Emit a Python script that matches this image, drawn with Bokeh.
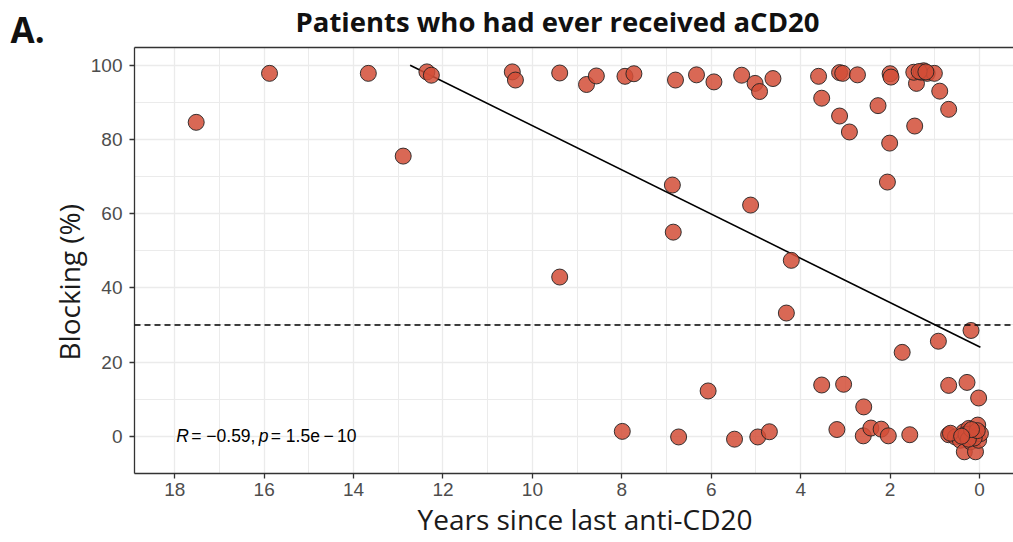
import numpy as np
from bokeh.plotting import figure
from bokeh.models import (Range1d, SingleIntervalTicker, FixedTicker, LinearAxis, Label,
                          Span, ColumnDataSource, Title)
from bokeh.embed import file_html
from bokeh.resources import INLINE

# ---------------- data ----------------
years = [17.52, 15.88, 13.67, 12.89, 12.36, 12.26, 10.45, 10.38, 9.39, 9.39,
         8.79, 8.57, 7.93, 7.73, 6.80, 6.33, 5.94, 5.32, 5.02, 4.92,
         4.62, 3.60, 3.53, 3.13, 2.91, 3.13, 3.06, 2.73, 2.27, 2.00,
         1.98, 2.01, 2.06, 1.45, 1.41, 1.47, 1.30, 1.25, 1.17, 1.01,
         0.89, 0.69, 6.87, 6.85, 5.12, 4.21, 4.32,
         1.73, 0.92, 0.19, 3.04, 0.69, 0.28, 0.02, 2.59,
         7.99, 6.73, 6.07, 5.48, 4.96, 4.70, 3.53, 3.19, 2.60, 2.43,
         2.20, 2.04, 1.56, 0.69, 0.54, 0.43, 0.35, 0.34, 0.28, 0.24,
         0.20, 0.16, 0.09, 0.09, 0.04, 0.02, -0.02, 0.65,
         0.30, 0.12, 0.25, 0.05, 0.18, 0.40, 1.35, 1.20]
blocking = [84.6, 97.8, 97.8, 75.5, 98.2, 97.3, 98.2, 96.0, 97.9, 42.9,
            94.8, 97.1, 97.0, 97.7, 96.0, 97.4, 95.5, 97.3, 95.1, 92.9,
            96.4, 97.0, 91.1, 86.3, 82.0, 98.0, 97.8, 97.4, 89.1, 97.7,
            96.8, 79.0, 68.5, 83.6, 95.1, 98.1, 98.1, 98.5, 97.8, 97.8,
            93.0, 88.1, 67.7, 55.0, 62.3, 47.4, 33.2,
            22.6, 25.6, 28.5, 14.0, 13.7, 14.5, 10.3, 7.9,
            1.3, -0.2, 12.2, -0.8, -0.2, 1.2, 13.8, 1.8, 0.1, 2.2,
            1.9, 0.1, 0.4, 0.4, -0.2, -1.1, 1.2, -4.2, -0.2, 2.1,
            -1.5, 0.7, 0.7, -4.2, 3.0, -1.1, 0.7, 0.8,
            0.5, -0.5, -0.8, 1.5, 1.8, 0.0, 98.3, 98.2]

threshold = 30
# fitted linear trend: blocking = fit_intercept + fit_slope * years
fit_intercept = 24.1
fit_slope = 5.96
y_cap = 100
annot_x, annot_y = 18, 0
annot_R = "−0.59"
annot_p = "1.5e\u2009−\u200910"

title_text = "Patients who had ever received aCD20"
panel_tag = "A."
x_label = "Years since last anti-CD20"
y_label = "Blocking (%)"

# ---------------- figure ----------------
p = figure(width=1013, height=542, output_backend="svg", toolbar_location=None,
           title=None,
           x_range=Range1d(18.90, -0.76), y_range=Range1d(-10.05, 104.77),
           min_border_left=134, min_border_right=0, min_border_top=47,
           min_border_bottom=69, background_fill_color="white",
           border_fill_color="white")
p.outline_line_color = None

# grids
p.xaxis.ticker = SingleIntervalTicker(interval=2, num_minor_ticks=2)
p.yaxis.ticker = SingleIntervalTicker(interval=20, num_minor_ticks=2)
p.xgrid.ticker = SingleIntervalTicker(interval=2, num_minor_ticks=2)
p.ygrid.ticker = SingleIntervalTicker(interval=20, num_minor_ticks=2)
for g in (p.xgrid, p.ygrid):
    g.grid_line_color = "#ebebeb"
    g.grid_line_width = 1.3
    g.minor_grid_line_color = "#ebebeb"
    g.minor_grid_line_width = 1.0

# axes
for ax in (p.xaxis, p.yaxis):
    ax.axis_line_color = "#333333"
    ax.axis_line_width = 1.3
    ax.major_tick_line_color = "#333333"
    ax.major_tick_line_width = 1.3
    ax.major_tick_out = 5
    ax.major_tick_in = 0
    ax.minor_tick_line_color = None
    ax.major_label_text_font = "Liberation Sans"
    ax.major_label_text_font_size = "19px"
    ax.major_label_text_color = "#4d4d4d"
p.xaxis.major_label_standoff = 4
p.yaxis.major_label_standoff = 7

# top border: an axis without ticks or labels
top = LinearAxis(ticker=FixedTicker(ticks=[]), major_tick_line_color=None,
                 minor_tick_line_color=None, axis_line_color="#333333",
                 axis_line_width=1.3, major_tick_out=0, major_tick_in=0,
                 major_label_standoff=0)
p.add_layout(top, "above")

# titles above (inner to outer): panel tag, main title
tag_title = Title(text=panel_tag, text_font="Open Sans", text_font_style="bold",
                  text_font_size="35px", text_color="#111111", align="left",
                  offset=-124, standoff=-11.5)
p.add_layout(tag_title, "above")
main_title = Title(text=title_text, text_font="Open Sans", text_font_style="bold",
                   text_font_size="27.5px", text_color="#111111", align="left",
                   offset=161, standoff=-61)
p.add_layout(main_title, "above")

# axis titles as positioned titles
xt = Title(text=x_label, text_font="Open Sans", text_font_style="normal",
           text_font_size="28px", text_color="#1a1a1a", align="left",
           offset=283, vertical_align="top", standoff=3.5)
p.add_layout(xt, "below")
yt = Title(text=y_label, text_font="Open Sans", text_font_style="normal",
           text_font_size="28px", text_color="#1a1a1a", align="left",
           offset=113, vertical_align="bottom", standoff=-1)
p.add_layout(yt, "left")

# threshold line
p.add_layout(Span(location=threshold, dimension="width", line_color="black",
                  line_width=1.5, line_dash="6 4"))

# fitted trend line
x0 = min(years)
x1 = (y_cap - fit_intercept) / fit_slope
lx = np.array([x0, x1])
p.line(lx, fit_intercept + fit_slope * lx, line_color="black", line_width=1.6)

# points
src = ColumnDataSource(dict(x=years, y=blocking))
p.scatter("x", "y", source=src, size=16, fill_color="#d24e37", fill_alpha=0.85,
          line_color="#222222", line_width=1.0, line_alpha=0.9)

# annotation: R = -0.59, p = 1.5e-10
pieces = [("R", "italic", 1.5), ("= " + annot_R + ",", "normal", 16.5),
          ("p", "italic", 84), ("= " + annot_p, "normal", 96)]
for txt, style, off in pieces:
    p.add_layout(Label(x=annot_x, y=annot_y, text=txt, x_offset=off,
                       text_font="Liberation Sans", text_font_size="17.5px",
                       text_font_style=style, text_color="black",
                       text_baseline="middle", text_align="left"))

open("out.html", "w").write(file_html(p, INLINE))
